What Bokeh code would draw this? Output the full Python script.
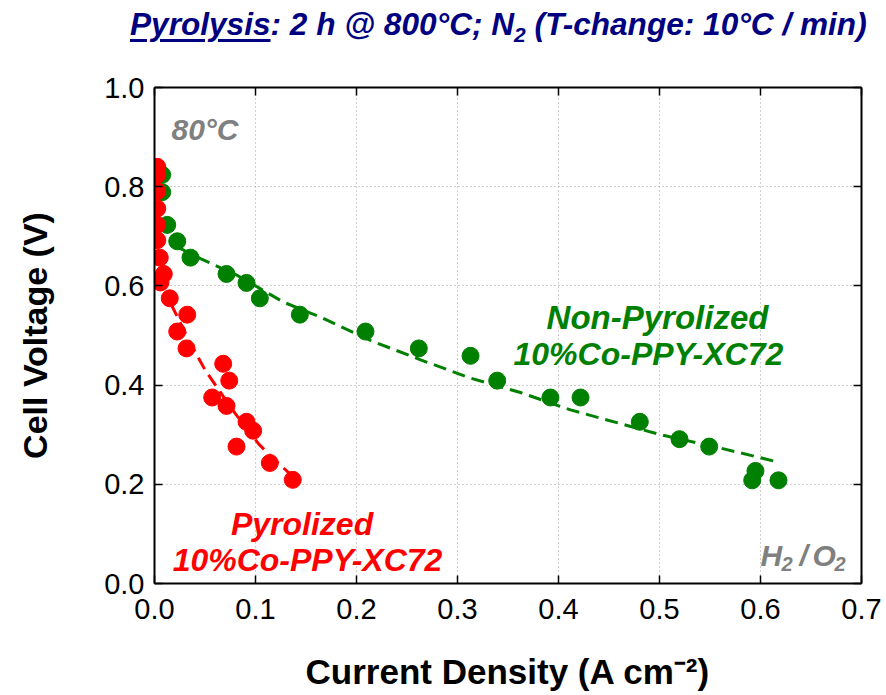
from bokeh.plotting import figure
from bokeh.layouts import column
from bokeh.models import (Range1d, FixedTicker, LinearAxis, Label, Div,
                          CustomJSTickFormatter, PrintfTickFormatter)
from bokeh.embed import file_html
from bokeh.resources import INLINE

# Polarization data, non-pyrolyzed 10%Co-PPY-XC72 (A cm^-2, V)
nonpyro_current = [0.0076, 0.0076, 0.0126, 0.0225, 0.0356, 0.0713, 0.0911, 0.1043,
                   0.1439, 0.2089, 0.2617, 0.3129, 0.3393, 0.3920, 0.4218, 0.4805,
                   0.5198, 0.5492, 0.5950, 0.5918, 0.6178]
nonpyro_voltage = [0.824, 0.789, 0.723, 0.690, 0.657, 0.624, 0.606, 0.575,
                   0.542, 0.508, 0.474, 0.459, 0.409, 0.375, 0.375, 0.326,
                   0.291, 0.276, 0.227, 0.208, 0.208]

# Polarization data, pyrolyzed 10%Co-PPY-XC72
pyro_current = [0.0027, 0.0027, 0.0027, 0.0027, 0.0027, 0.0027, 0.0052, 0.0092,
                0.0059, 0.0151, 0.0324, 0.0225, 0.0317, 0.0680, 0.0740, 0.0571,
                0.0713, 0.0911, 0.0977, 0.0812, 0.1142, 0.1369]
pyro_voltage = [0.840, 0.824, 0.791, 0.756, 0.723, 0.692, 0.657, 0.624,
                0.607, 0.575, 0.542, 0.508, 0.474, 0.443, 0.409, 0.375,
                0.358, 0.326, 0.308, 0.276, 0.243, 0.209]

# Trend curves through each data set
nonpyro_fit_current = [0.025, 0.0455, 0.082, 0.128, 0.1644, 0.2139, 0.2634, 0.3129,
                       0.3624, 0.4119, 0.501, 0.5604, 0.6132]
nonpyro_fit_voltage = [0.676, 0.655, 0.621, 0.567, 0.537, 0.490, 0.451, 0.414,
                       0.385, 0.350, 0.300, 0.273, 0.247]
pyro_fit_current = [0.0165, 0.034, 0.0505, 0.062, 0.0802, 0.1033, 0.1165, 0.1363]
pyro_fit_voltage = [0.563, 0.490, 0.429, 0.395, 0.342, 0.281, 0.254, 0.217]

x_ticks = [0.0, 0.1, 0.2, 0.3, 0.4, 0.5, 0.6, 0.7]
y_ticks = [0.0, 0.2, 0.4, 0.6, 0.8, 1.0]

GREEN = "#008000"
RED = "#ff0000"
GRAY = "#808080"
NAVY = "#000080"
FONT = "Liberation Sans"

heading = Div(
    text=(
        '<div style="font-family:\'Liberation Sans\',Arial,sans-serif;'
        'font-weight:bold;font-style:italic;font-size:31.6px;color:#000080;'
        'line-height:40px;padding:4px 0 0 130px;white-space:nowrap;">'
        '<u style="text-decoration-thickness:3px;text-underline-offset:4px;">'
        'Pyrolysis</u>: 2 h @ 800°C; N'
        '<sub style="font-size:21px;line-height:0;vertical-align:-7px;">2</sub>'
        ' (T-change: 10°C / min)</div>'
    ),
    width=886, height=60, margin=0,
)

p = figure(width=886, height=635, output_backend="svg", toolbar_location=None,
           x_range=Range1d(0, 0.7), y_range=Range1d(0, 1.0),
           min_border_left=154, min_border_right=25,
           min_border_top=27, min_border_bottom=112, margin=0)
p.outline_line_color = None
p.background_fill_color = "white"
p.border_fill_color = "white"


def style_axis(ax, ticks, labels=True):
    ax.ticker = FixedTicker(ticks=ticks)
    ax.axis_line_color = "black"
    ax.axis_line_width = 2
    ax.major_tick_line_color = "black"
    ax.major_tick_line_width = 1.5
    ax.major_tick_in = 8
    ax.major_tick_out = 0
    ax.minor_tick_line_color = None
    if labels:
        ax.formatter = PrintfTickFormatter(format="%.1f")
        ax.major_label_text_font = FONT
        ax.major_label_text_font_size = "29px"
        ax.major_label_text_color = "black"
        ax.axis_label_text_font = FONT
        ax.axis_label_text_font_style = "bold"
        ax.axis_label_text_color = "black"
    else:
        ax.formatter = CustomJSTickFormatter(code="return ''")
        ax.major_label_text_font_size = "1px"


xax = p.xaxis[0]
yax = p.yaxis[0]
style_axis(xax, x_ticks)
style_axis(yax, y_ticks)
xax.major_label_standoff = 15
yax.major_label_standoff = 10
xax.axis_label = "Current Density (A cm\u207b\u00b2)"
yax.axis_label = "Cell Voltage (V)"
xax.axis_label_text_font_size = "35px"
yax.axis_label_text_font_size = "34px"
xax.axis_label_standoff = 30
yax.axis_label_standoff = 47

top_axis = LinearAxis()
style_axis(top_axis, x_ticks, labels=False)
p.add_layout(top_axis, "above")
right_axis = LinearAxis()
style_axis(right_axis, y_ticks, labels=False)
p.add_layout(right_axis, "right")

for g in (p.xgrid[0], p.ygrid[0]):
    g.grid_line_color = "#a0a0a0"
    g.grid_line_dash = "1 3"
    g.grid_line_width = 1
p.xgrid[0].ticker = FixedTicker(ticks=x_ticks)
p.ygrid[0].ticker = FixedTicker(ticks=y_ticks)

# trend curves, then data points on top
p.line(nonpyro_fit_current, nonpyro_fit_voltage, line_color=GREEN, line_width=3,
       line_dash="13 7")
p.line(pyro_fit_current, pyro_fit_voltage, line_color=RED, line_width=3,
       line_dash="13 7")
p.scatter(nonpyro_current, nonpyro_voltage, size=17, marker="circle",
          fill_color=GREEN, line_color=GREEN)
p.scatter(pyro_current, pyro_voltage, size=17, marker="circle",
          fill_color=RED, line_color=RED)


def add_label(text, x, y, size, color, style="bold italic", align="left",
              y_offset=0):
    p.add_layout(Label(x=x, y=y, text=text, text_font=FONT,
                       text_font_size=f"{size}px", text_font_style=style,
                       text_color=color, text_align=align,
                       text_baseline="alphabetic", y_offset=y_offset))


# annotations inside the frame
add_label("80°C", 0.0168, 0.9158, 30, GRAY)
add_label("Non-Pyrolized", 0.498, 0.5361, 33, GREEN, align="center")
add_label("10%Co-PPY-XC72", 0.489, 0.4634, 32, GREEN, align="center")
add_label("Pyrolized", 0.1461, 0.1202, 32, RED, align="center")
add_label("10%Co-PPY-XC72", 0.1515, 0.0475, 32, RED, align="center")

h2o2_parts = [("H", 760, 30, 0), ("2", 781, 20, -8), ("/", 799, 30, 0),
              ("O", 812, 30, 0), ("2", 834, 20, -8)]
for txt, px, sz, dy in h2o2_parts:
    add_label(txt, (px - 154) / 1010, 0.0555, sz, GRAY, y_offset=dy)

layout = column(heading, p, spacing=0, margin=0)
open("out.html", "w").write(file_html(layout, INLINE))
